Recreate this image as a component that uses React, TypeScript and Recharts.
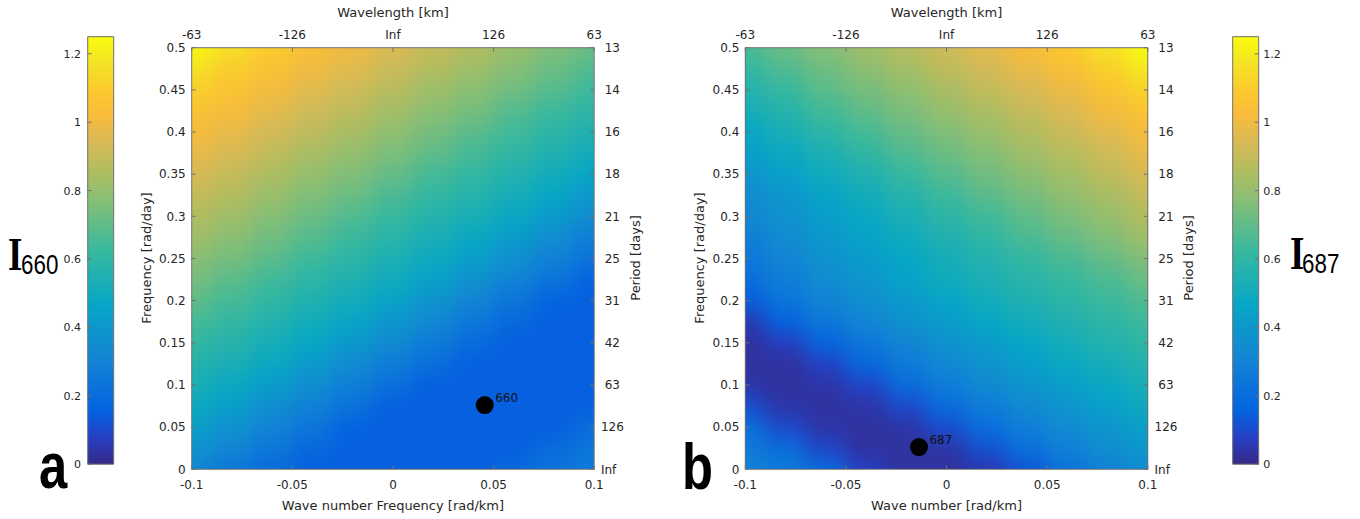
import React from "react";
import { ScatterChart, Scatter, XAxis, YAxis, BarChart, Bar } from "recharts";

// sample grid of the two maps (wave number k in rad/km, frequency w in rad/day)
const kGrid = [-0.1, -0.08, -0.06, -0.04, -0.02, 0, 0.02, 0.04, 0.06, 0.08, 0.1];
const omegaGrid = [
  0, 0.025, 0.05, 0.075, 0.1, 0.125, 0.15, 0.175, 0.2, 0.225, 0.25, 0.275, 0.3, 0.325, 0.35, 0.375, 0.4,
  0.425, 0.45, 0.475, 0.5
];

// rows follow omegaGrid (bottom to top), columns follow kGrid
const intensity660 = [
  [0.32, 0.25, 0.2, 0.15, 0.15, 0.15, 0.15, 0.15, 0.19, 0.23, 0.27],
  [0.38, 0.31, 0.25, 0.19, 0.15, 0.15, 0.15, 0.15, 0.15, 0.2, 0.24],
  [0.44, 0.37, 0.3, 0.24, 0.16, 0.15, 0.15, 0.15, 0.15, 0.15, 0.21],
  [0.49, 0.43, 0.36, 0.29, 0.23, 0.15, 0.15, 0.15, 0.15, 0.15, 0.15],
  [0.53, 0.48, 0.42, 0.35, 0.28, 0.22, 0.15, 0.15, 0.15, 0.15, 0.15],
  [0.57, 0.53, 0.48, 0.41, 0.34, 0.27, 0.21, 0.15, 0.15, 0.15, 0.15],
  [0.61, 0.57, 0.52, 0.47, 0.4, 0.33, 0.26, 0.2, 0.15, 0.15, 0.15],
  [0.65, 0.61, 0.56, 0.51, 0.46, 0.39, 0.32, 0.25, 0.19, 0.15, 0.15],
  [0.7, 0.65, 0.6, 0.55, 0.51, 0.45, 0.38, 0.31, 0.24, 0.16, 0.15],
  [0.74, 0.69, 0.64, 0.59, 0.55, 0.5, 0.44, 0.37, 0.3, 0.24, 0.16],
  [0.78, 0.74, 0.69, 0.63, 0.59, 0.54, 0.49, 0.43, 0.36, 0.29, 0.23],
  [0.82, 0.78, 0.73, 0.68, 0.63, 0.58, 0.53, 0.48, 0.42, 0.35, 0.28],
  [0.86, 0.82, 0.77, 0.72, 0.67, 0.62, 0.57, 0.53, 0.48, 0.41, 0.34],
  [0.9, 0.86, 0.81, 0.76, 0.72, 0.66, 0.61, 0.57, 0.52, 0.47, 0.4],
  [0.94, 0.9, 0.85, 0.8, 0.76, 0.71, 0.65, 0.61, 0.56, 0.51, 0.46],
  [0.98, 0.94, 0.89, 0.84, 0.8, 0.75, 0.7, 0.65, 0.6, 0.55, 0.51],
  [1.02, 0.98, 0.93, 0.88, 0.84, 0.79, 0.74, 0.69, 0.64, 0.59, 0.55],
  [1.06, 1.02, 0.97, 0.92, 0.88, 0.83, 0.78, 0.74, 0.68, 0.63, 0.59],
  [1.11, 1.06, 1.01, 0.96, 0.92, 0.87, 0.82, 0.78, 0.73, 0.68, 0.63],
  [1.17, 1.1, 1.05, 1.0, 0.96, 0.91, 0.86, 0.82, 0.77, 0.72, 0.67],
  [1.24, 1.16, 1.1, 1.04, 1.0, 0.95, 0.9, 0.86, 0.81, 0.76, 0.72]
];

const intensity687 = [
  [0.3, 0.26, 0.2, 0.08, 0.03, 0.03, 0.05, 0.13, 0.23, 0.29, 0.35],
  [0.26, 0.21, 0.09, 0.03, 0.03, 0.04, 0.12, 0.22, 0.29, 0.35, 0.4],
  [0.22, 0.1, 0.04, 0.03, 0.04, 0.11, 0.21, 0.28, 0.34, 0.39, 0.44],
  [0.11, 0.04, 0.03, 0.04, 0.1, 0.2, 0.27, 0.33, 0.39, 0.44, 0.49],
  [0.04, 0.03, 0.04, 0.09, 0.2, 0.27, 0.33, 0.38, 0.43, 0.48, 0.53],
  [0.03, 0.03, 0.08, 0.18, 0.26, 0.32, 0.38, 0.43, 0.48, 0.52, 0.56],
  [0.03, 0.07, 0.17, 0.25, 0.31, 0.37, 0.42, 0.47, 0.52, 0.56, 0.6],
  [0.05, 0.16, 0.25, 0.31, 0.37, 0.42, 0.47, 0.51, 0.55, 0.59, 0.63],
  [0.15, 0.24, 0.3, 0.36, 0.41, 0.46, 0.51, 0.55, 0.59, 0.63, 0.67],
  [0.2, 0.28, 0.34, 0.39, 0.45, 0.5, 0.54, 0.58, 0.62, 0.66, 0.72],
  [0.25, 0.31, 0.37, 0.42, 0.47, 0.52, 0.56, 0.61, 0.66, 0.71, 0.76],
  [0.28, 0.34, 0.4, 0.45, 0.5, 0.55, 0.6, 0.66, 0.71, 0.76, 0.82],
  [0.32, 0.37, 0.43, 0.48, 0.53, 0.59, 0.64, 0.7, 0.75, 0.8, 0.86],
  [0.34, 0.39, 0.45, 0.51, 0.57, 0.63, 0.69, 0.74, 0.79, 0.84, 0.9],
  [0.38, 0.44, 0.5, 0.55, 0.62, 0.68, 0.73, 0.78, 0.83, 0.88, 0.94],
  [0.43, 0.48, 0.54, 0.6, 0.67, 0.72, 0.77, 0.82, 0.87, 0.92, 0.98],
  [0.47, 0.53, 0.59, 0.65, 0.71, 0.76, 0.81, 0.86, 0.91, 0.96, 1.02],
  [0.52, 0.57, 0.64, 0.7, 0.75, 0.8, 0.85, 0.9, 0.95, 1.01, 1.07],
  [0.56, 0.62, 0.69, 0.74, 0.79, 0.84, 0.89, 0.94, 0.99, 1.06, 1.12],
  [0.61, 0.67, 0.73, 0.78, 0.83, 0.88, 0.93, 0.98, 1.04, 1.11, 1.19],
  [0.66, 0.72, 0.77, 0.82, 0.87, 0.92, 0.97, 1.03, 1.09, 1.17, 1.25]
];

const kTicks = [-0.1, -0.05, 0, 0.05, 0.1];
const wavelengthLabels = ["-63", "-126", "Inf", "126", "63"];
const omegaTicks = [0, 0.05, 0.1, 0.15, 0.2, 0.25, 0.3, 0.35, 0.4, 0.45, 0.5];
const periodLabels = ["Inf", "126", "63", "42", "31", "25", "21", "18", "16", "14", "13"];
const colorbarTicks = [0, 0.2, 0.4, 0.6, 0.8, 1, 1.2];
const colorbarMax = 1.25;

const marker660 = [{ k: 0.0456, w: 0.0762, name: "660" }];
const marker687 = [{ k: -0.0137, w: 0.0264, name: "687" }];

// parula-like colour map, position 0..1
const parulaStops: [number, number[]][] = [
  [0, [53, 42, 135]],
  [0.06, [40, 62, 195]],
  [0.125, [3, 99, 225]],
  [0.25, [20, 133, 212]],
  [0.375, [6, 167, 198]],
  [0.5, [56, 185, 158]],
  [0.625, [140, 191, 115]],
  [0.6875, [178, 189, 95]],
  [0.75, [215, 186, 88]],
  [0.82, [250, 188, 58]],
  [0.875, [252, 202, 46]],
  [0.94, [244, 228, 36]],
  [1, [249, 251, 14]]
];

const rgb = (c: number[]) => `rgb(${c.map(Math.round).join(",")})`;

const parula = (v: number) => {
  const t = Math.max(0, Math.min(1, v / colorbarMax));
  for (let i = 1; i < parulaStops.length; i++) {
    const [p1, c1] = parulaStops[i];
    const [p0, c0] = parulaStops[i - 1];
    if (t <= p1) {
      const f = (t - p0) / (p1 - p0);
      return rgb(c0.map((c, j) => c + (c1[j] - c) * f));
    }
  }
  return rgb(parulaStops[parulaStops.length - 1][1]);
};

const INK = "#262626";
const AXIS = "#707070";
const FONT = "'DejaVu Sans', Verdana, sans-serif";
const tickStyle = { fontSize: 12, fill: INK, fontFamily: FONT };

const CHART_W = 680;
const CHART_H = 519;
const PLOT_W = 402.5;
const PLOT_TOP = 47.7;
const PLOT_BOTTOM = 469.3;
const PLOT_H = PLOT_BOTTOM - PLOT_TOP;

const pad = (s: string) => (s.length < 3 ? "\u00a0" + s : s);

interface IMarker {
  k: number;
  w: number;
  name: string;
}

// the colour map of one panel: drawn in its own chart, softened and clipped to the plot box
const HeatLayer: React.FC<{ grid: number[][]; plotLeft: number }> = ({ grid, plotLeft }) => {
  const cells = omegaGrid.flatMap((w, i) => kGrid.map((k, j) => ({ k, w, v: grid[i][j] })));
  const cw = PLOT_W / (kGrid.length - 1);
  const ch = PLOT_H / (omegaGrid.length - 1);
  const bleed = 36;
  const width = plotLeft + PLOT_W + 80;

  const cell = (p: any) => {
    let x0 = p.cx - cw / 2;
    let x1 = p.cx + cw / 2;
    let y0 = p.cy - ch / 2;
    let y1 = p.cy + ch / 2;
    if (x0 < plotLeft + 1) x0 = plotLeft - bleed;
    if (x1 > plotLeft + PLOT_W - 1) x1 = plotLeft + PLOT_W + bleed;
    if (y0 < PLOT_TOP + 1) y0 = PLOT_TOP - bleed;
    if (y1 > PLOT_BOTTOM - 1) y1 = PLOT_BOTTOM + bleed;
    const c = parula(p.payload.v);
    return <rect x={x0} y={y0} width={x1 - x0} height={y1 - y0} fill={c} stroke={c} strokeWidth={0.6} />;
  };

  return (
    <div style={{ position: "absolute", left: plotLeft, top: PLOT_TOP, width: PLOT_W, height: PLOT_H, overflow: "hidden" }}>
      <div style={{ position: "absolute", left: -plotLeft, top: -PLOT_TOP, filter: "blur(10px)" }}>
        <ScatterChart
          width={width}
          height={CHART_H}
          margin={{ top: PLOT_TOP, bottom: CHART_H - PLOT_BOTTOM, left: plotLeft, right: width - plotLeft - PLOT_W }}
        >
          <XAxis hide dataKey="k" type="number" domain={[-0.1, 0.1]} />
          <YAxis hide dataKey="w" type="number" domain={[0, 0.5]} />
          <Scatter data={cells} shape={cell} isAnimationActive={false} />
        </ScatterChart>
      </div>
    </div>
  );
};

interface IPanelProps {
  marker: IMarker[];
  left: number;
  plotLeft: number;
}

const Panel: React.FC<IPanelProps> = ({ marker, left, plotLeft }) => {
  const plotRight = plotLeft + PLOT_W;

  const dot = (p: any) => <circle cx={p.cx} cy={p.cy} r={9} fill="#000" />;
  const label = (p: any) => (
    <text x={p.cx + 10.5} y={p.cy - 3} fontSize={12} fill="#111" fontFamily={FONT}>
      {p.payload.name}
    </text>
  );

  const common = {
    tick: tickStyle,
    tickLine: { stroke: AXIS },
    axisLine: { stroke: AXIS },
    tickSize: -4,
    interval: 0 as const
  };

  return (
    <div style={{ position: "absolute", left, top: 0 }}>
      <ScatterChart
        width={CHART_W}
        height={CHART_H}
        margin={{
          top: PLOT_TOP - 30,
          bottom: CHART_H - PLOT_BOTTOM - 30,
          left: plotLeft - 40,
          right: CHART_W - plotRight - 40
        }}
      >
        <XAxis {...common} xAxisId="k" dataKey="k" type="number" domain={[-0.1, 0.1]} ticks={kTicks} height={30} tickMargin={15} />
        <XAxis
          {...common}
          xAxisId="kTop"
          dataKey="k"
          orientation="top"
          type="number"
          domain={[-0.1, 0.1]}
          ticks={kTicks}
          height={30}
          tickMargin={12.4}
          tickFormatter={(v: number) => wavelengthLabels[kTicks.indexOf(v)]}
        />
        <YAxis {...common} yAxisId="w" dataKey="w" type="number" domain={[0, 0.5]} ticks={omegaTicks} width={40} tickMargin={10} />
        <YAxis
          {...common}
          yAxisId="wR"
          dataKey="w"
          orientation="right"
          type="number"
          domain={[0, 0.5]}
          ticks={omegaTicks}
          width={40}
          tickMargin={10.7}
          tickFormatter={(v: number) => pad(periodLabels[omegaTicks.indexOf(v)])}
        />
        <Scatter data={marker} xAxisId="k" yAxisId="w" shape={dot} isAnimationActive={false} />
        <Scatter data={marker} xAxisId="kTop" yAxisId="wR" shape={label} isAnimationActive={false} />
      </ScatterChart>
    </div>
  );
};

interface IColorBarProps {
  left: number;
  barLeft: number;
  side: "left" | "right";
  name: string;
}

const ColorBar: React.FC<IColorBarProps> = ({ left, barLeft, side, name }) => {
  const w = 110;
  const local = barLeft - left;
  const isLeft = side === "left";
  const margin = isLeft
    ? { top: 36.7, bottom: CHART_H - 464.2, left: local - 40, right: w - local - 26 }
    : { top: 36.7, bottom: CHART_H - 464.2, left: local, right: w - local - 26 - 40 };
  return (
    <div style={{ position: "absolute", left, top: 0 }}>
      <BarChart width={w} height={CHART_H} data={[{ name, top: colorbarMax }]} barCategoryGap={0} margin={margin}>
        <XAxis dataKey="name" hide />
        <YAxis
          orientation={side}
          type="number"
          domain={[0, colorbarMax]}
          ticks={colorbarTicks}
          width={40}
          tickSize={-4}
          tickMargin={isLeft ? 10.7 : 8.6}
          axisLine={false}
          interval={0}
          tick={{ ...tickStyle, fontSize: 11 }}
          tickLine={{ stroke: AXIS }}
        />
        <Bar dataKey="top" fill="url(#parulaBar)" stroke={AXIS} isAnimationActive={false} />
      </BarChart>
    </div>
  );
};

const App: React.FC = () => (
  <div style={{ position: "absolute", left: 0, top: 0, width: 1360, height: 519, background: "#fff", fontFamily: FONT }}>
    <svg width={0} height={0} style={{ position: "absolute" }}>
      <defs>
        <linearGradient id="parulaBar" x1="0" y1="1" x2="0" y2="0">
          {parulaStops.map(([p, c]) => (
            <stop key={p} offset={p} stopColor={rgb(c)} />
          ))}
        </linearGradient>
      </defs>
    </svg>

    <HeatLayer grid={intensity660} plotLeft={191.7} />
    <HeatLayer grid={intensity687} plotLeft={745.3} />
    <ColorBar left={30} barLeft={87.7} side="left" name="I660" />
    <Panel marker={marker660} left={0} plotLeft={191.7} />
    <Panel marker={marker687} left={680} plotLeft={65.3} />
    <ColorBar left={1190} barLeft={1232.7} side="right" name="I687" />

    <svg width={1360} height={519} style={{ position: "absolute", left: 0, top: 0, pointerEvents: "none" }}>
      <g fill={INK} fontSize={13} fontFamily={FONT} textAnchor="middle">
        <text x={393} y={17}>Wavelength [km]</text>
        <text x={946.5} y={17}>Wavelength [km]</text>
        <text x={393} y={510}>Wave number Frequency [rad/km]</text>
        <text x={946.5} y={510}>Wave number [rad/km]</text>
        <text transform="translate(151,258) rotate(-90)">Frequency [rad/day]</text>
        <text transform="translate(704,258) rotate(-90)">Frequency [rad/day]</text>
        <text transform="translate(640,258) rotate(-90)">Period [days]</text>
        <text transform="translate(1193,258) rotate(-90)">Period [days]</text>
      </g>
      <g fill="#000">
        <text transform="translate(8,270) scale(0.8,1)" fontFamily="'Liberation Serif', serif" fontWeight="bold" fontSize={46}>
          I
        </text>
        <text transform="translate(21,274) scale(0.8,1)" fontFamily="'Liberation Sans', sans-serif" fontSize={28}>
          660
        </text>
        <text transform="translate(1290,269) scale(0.8,1)" fontFamily="'Liberation Serif', serif" fontWeight="bold" fontSize={46}>
          I
        </text>
        <text transform="translate(1302,273) scale(0.8,1)" fontFamily="'Liberation Sans', sans-serif" fontSize={28}>
          687
        </text>
        <text transform="translate(39,488) scale(0.78,1)" fontFamily="'Liberation Sans', sans-serif" fontWeight="bold" fontSize={65}>
          a
        </text>
        <text transform="translate(682,489) scale(0.78,1)" fontFamily="'Liberation Sans', sans-serif" fontWeight="bold" fontSize={65}>
          b
        </text>
      </g>
    </svg>
  </div>
);

export default App;
